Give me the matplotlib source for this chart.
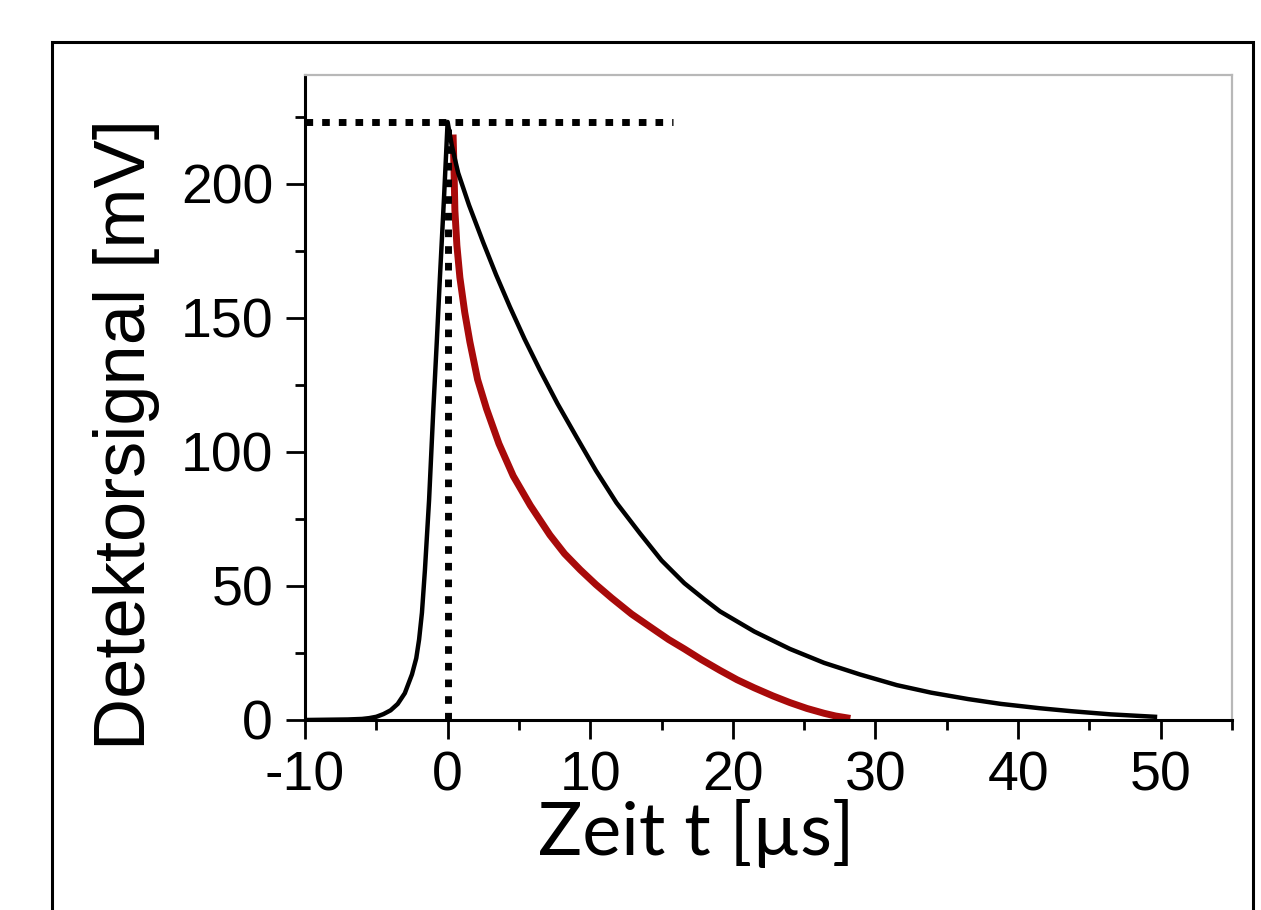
import matplotlib
matplotlib.use("Agg")
import matplotlib.pyplot as plt
from matplotlib.patches import Rectangle
from matplotlib.ticker import MultipleLocator

t_black = [-10, -7, -6, -5.5, -5, -4.5, -4, -3.5, -3, -2.5, -2.2, -2, -1.8, -1.59, -1.3, -1.0,
           -0.75, -0.54, -0.25, 0,
           0.3, 0.74, 1.5, 2.5, 3.4, 4.37, 5.4, 6.47, 7.7, 9.04, 10.4, 11.84, 13.5, 15,
           16.6, 18, 19.1, 21.5, 24, 26.4, 28.9, 31.5, 33.9, 36.5, 38.8, 41.5, 43.7,
           46.5, 49.6]
y_black = [0, 0.2, 0.4, 0.7, 1.2, 2.2, 3.6, 6, 10, 17, 23, 30, 40, 56, 82, 116,
           142, 165, 195, 223,
           214, 204, 192, 178, 166, 154, 142, 130.5, 118, 105.5, 93, 81, 69.5, 59.5,
           51, 45, 40.5, 33, 26.5, 21.3, 17, 13, 10.2, 7.8, 6, 4.4, 3.3,
           2.1, 1.2]

# fitted decay (red)
t_red = [0.39, 0.45, 0.51, 0.65, 0.86, 1.2, 1.56, 2.1, 2.73, 3.6, 4.6, 5.8, 7.17,
         8.2, 9.3, 10.4, 11.5, 12.9, 14.4, 15.5, 16.6, 17.8, 19.1, 20.3, 21.5,
         22.8, 24, 25.2, 26.4, 27.2, 28]
y_red = [217, 205, 190, 177, 165, 152, 141, 127, 116, 103, 91, 80, 69,
         62, 56, 50.5, 45.5, 39.5, 34, 30, 26.5, 22.5, 18.5, 15, 12,
         9, 6.5, 4.3, 2.5, 1.5, 0.8]

peak_t = 0
peak_y = 223
hline_end = 15.8

x_ticks = [-10, 0, 10, 20, 30, 40, 50]
y_ticks = [0, 50, 100, 150, 200]

fig = plt.figure(figsize=(12.61, 9.10), dpi=100)
ax = fig.add_axes([305 / 1261, 1 - 720 / 910, (1232 - 305) / 1261, (720 - 75) / 910])

ax.plot(t_black, y_black, color="black", lw=3.2, zorder=3, solid_joinstyle="round")
ax.plot(t_red, y_red, color="#a80a0a", lw=5, zorder=2, solid_joinstyle="round")

dot = (0, (1.1, 1.3))
ax.plot([peak_t, peak_t], [0, peak_y], color="black", lw=5, linestyle=dot,
        dash_capstyle="butt", zorder=4)
ax.plot([-10, hline_end], [peak_y, peak_y], color="black", lw=5, linestyle=dot,
        dash_capstyle="butt", zorder=4, clip_on=False)

ax.set_xlim(-10, 55)
ax.set_ylim(0, 240.5)
ax.set_xticks(x_ticks)
ax.set_yticks(y_ticks)
ax.xaxis.set_minor_locator(MultipleLocator(5))
ax.yaxis.set_minor_locator(MultipleLocator(25))

tickfont = {"family": "Liberation Sans", "size": 40}
ax.set_xticklabels([str(v) for v in x_ticks], fontdict=tickfont)
ax.set_yticklabels([str(v) for v in y_ticks], fontdict=tickfont)
ax.tick_params(which="major", direction="out", length=14, width=2, pad=8, color="black")
ax.tick_params(which="minor", direction="out", length=7, width=2, color="black")
ax.tick_params(axis="y", pad=9)

for s in ["left", "bottom"]:
    ax.spines[s].set_linewidth(2.2)
    ax.spines[s].set_color("black")
for s in ["top", "right"]:
    ax.spines[s].set_linewidth(1.6)
    ax.spines[s].set_color("#b8b8b8")

fig.text(127 / 1261, 1 - 435 / 910, "Detektorsignal [mV]", rotation=90,
         ha="center", va="center", family="Liberation Sans", fontsize=52)
fig.text(696 / 1261, 1 - 833 / 910, "Zeit t [µs]", ha="center", va="center",
         family="Lato", fontsize=53)

# outer frame around the whole figure
frame = Rectangle((52 / 1261, -0.2), (1253 - 52) / 1261, 0.2 + 1 - 42 / 910,
                  transform=fig.transFigure, fill=False, lw=2.2, edgecolor="black",
                  clip_on=False)
fig.patches.append(frame)

fig.savefig("out.png", dpi=100)
